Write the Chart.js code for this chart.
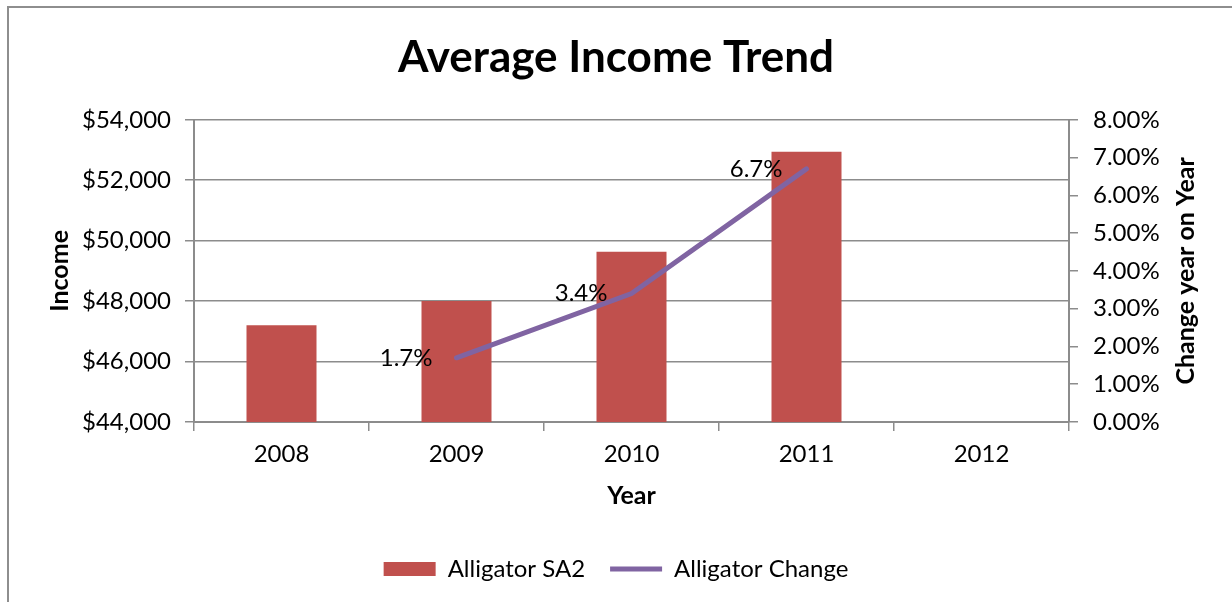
<!DOCTYPE html>
<html>
<head>
<meta charset="utf-8">
<title>Average Income Trend</title>
<script src="https://cdn.jsdelivr.net/npm/chart.js@4.4.0/dist/chart.umd.min.js"></script>
<style>
  html, body { margin: 0; padding: 0; background: #fff; }
  body { width: 1232px; height: 602px; position: relative; overflow: hidden; }
  .frame { position: absolute; left: 7px; top: 6px; width: 1260px; height: 640px; border: 2px solid #8e8e8e; }
  #wrap { position: absolute; left: 0; top: 0; width: 1232px; height: 602px; }
</style>
</head>
<body>
<div class="frame"></div>
<div id="wrap"><canvas id="incomeChart" width="1232" height="602"></canvas></div>
<script>
// data
const years = ['2008', '2009', '2010', '2011', '2012'];
const avgIncome = [47200, 48000, 49630, 52940, null];
const yoyChange = [null, 1.7, 3.4, 6.7, null];   // percent

const AXIS_GREY = '#8c8c8c';
const BAR_RED = '#c0504d';
const LINE_PURPLE = '#8064a2';
const TICK_SIZE = 24;
const AXIS_TITLE_SIZE = 25;

Chart.defaults.font.family = 'Lato, "Open Sans", sans-serif';
Chart.defaults.color = '#000';

// percent labels to the left of each point on the change line
const changeLabels = {
  id: 'changeLabels',
  afterDatasetsDraw(chart) {
    const ctx = chart.ctx;
    const meta = chart.getDatasetMeta(1);
    ctx.save();
    ctx.font = TICK_SIZE + 'px Lato, sans-serif';
    ctx.fillStyle = '#000';
    ctx.textAlign = 'right';
    ctx.textBaseline = 'middle';
    meta.data.forEach((pt, i) => {
      const v = yoyChange[i];
      if (v == null) return;
      ctx.fillText(v.toFixed(1) + '%', pt.x - 24, pt.y);
    });
    ctx.restore();
  }
};

// right axis title reads bottom-to-top like the left one
const rightTitle = {
  id: 'rightTitle',
  afterDraw(chart) {
    const ctx = chart.ctx;
    const area = chart.chartArea;
    const s = chart.scales.y2;
    ctx.save();
    ctx.translate(s.right - 46, (area.top + area.bottom) / 2);
    ctx.rotate(-Math.PI / 2);
    ctx.font = 'bold ' + AXIS_TITLE_SIZE + 'px Lato, sans-serif';
    ctx.fillStyle = '#000';
    ctx.textAlign = 'center';
    ctx.textBaseline = 'middle';
    ctx.fillText('Change year on Year', 0, 0);
    ctx.restore();
  }
};

new Chart(document.getElementById('incomeChart'), {
  type: 'bar',
  data: {
    labels: years,
    datasets: [
      {
        label: 'Alligator SA2',
        data: avgIncome,
        backgroundColor: BAR_RED,
        borderWidth: 0,
        barPercentage: 0.4,
        categoryPercentage: 1.0,
        pointStyle: 'rect',
        yAxisID: 'y',
        order: 2
      },
      {
        type: 'line',
        label: 'Alligator Change',
        data: yoyChange,
        borderColor: LINE_PURPLE,
        backgroundColor: LINE_PURPLE,
        borderWidth: 5,
        borderCapStyle: 'round',
        pointRadius: 0,
        pointStyle: 'line',
        tension: 0,
        yAxisID: 'y2',
        order: 1
      }
    ]
  },
  options: {
    responsive: false,
    animation: false,
    devicePixelRatio: 1,
    layout: { padding: { left: 0, right: 0, top: 0, bottom: 11 } },
    plugins: {
      title: {
        display: true,
        text: 'Average Income Trend',
        color: '#000',
        font: { size: 44, weight: 'bold' },
        padding: { top: 31, bottom: 36 }
      },
      legend: {
        position: 'bottom',
        labels: {
          usePointStyle: true,
          pointStyleWidth: 52,
          boxHeight: 14,
          padding: 25,
          color: '#000',
          font: { size: TICK_SIZE },
          sort: (a, b) => a.datasetIndex - b.datasetIndex
        }
      },
      tooltip: { enabled: false }
    },
    scales: {
      x: {
        grid: { offset: true, drawOnChartArea: false, tickLength: 9, color: AXIS_GREY, lineWidth: 1.5 },
        border: { color: AXIS_GREY, width: 2 },
        ticks: { padding: 9, font: { size: TICK_SIZE } },
        title: { display: true, text: 'Year', font: { size: AXIS_TITLE_SIZE, weight: 'bold' }, padding: { top: 0, bottom: 21 } },
        afterFit: s => { s.height = 110; }
      },
      y: {
        position: 'left',
        min: 44000,
        max: 54000,
        ticks: {
          stepSize: 2000,
          padding: 14,
          font: { size: TICK_SIZE },
          callback: v => '$' + v.toLocaleString('en-US')
        },
        grid: { color: AXIS_GREY, lineWidth: 1.5, tickLength: 9 },
        border: { color: AXIS_GREY, width: 2 },
        title: { display: true, text: 'Income', font: { size: AXIS_TITLE_SIZE, weight: 'bold' }, padding: { top: 45, bottom: 0 } },
        afterFit: s => { s.width = 194; }
      },
      y2: {
        position: 'right',
        min: 0,
        max: 8,
        ticks: {
          stepSize: 1,
          padding: 15,
          font: { size: TICK_SIZE },
          callback: v => v.toFixed(2) + '%'
        },
        grid: { drawOnChartArea: false, color: AXIS_GREY, lineWidth: 1.5, tickLength: 9 },
        border: { color: AXIS_GREY, width: 2 },
        afterFit: s => { s.width = 163; }
      }
    }
  },
  plugins: [changeLabels, rightTitle]
});
</script>
</body>
</html>
